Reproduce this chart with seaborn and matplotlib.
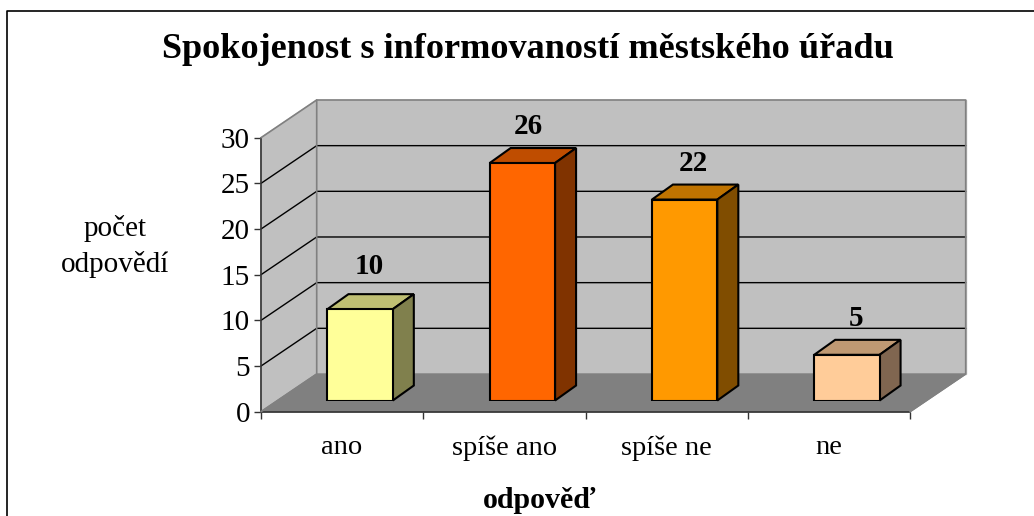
import matplotlib
matplotlib.use("Agg")
import matplotlib.pyplot as plt
import pandas as pd
import seaborn as sns

# data
answers = ["ano", "spíše ano", "spíše ne", "ne"]
counts = [10, 26, 22, 5]
front_colors = ["#FFFF99", "#FF6600", "#FF9900", "#FFCC99"]
top_colors = ["#BFBF73", "#BF4D00", "#BF7300", "#BF9973"]
side_colors = ["#80804D", "#803300", "#804D00", "#806650"]
y_ticks = [0, 5, 10, 15, 20, 25, 30]

# where the value labels sit against the top of each bar (pixels)
label_dx = [9, 6, 9, 9]
label_dy = [14, 8, 8, 8]

W, H = 1034, 516

sns.set_theme(style="white")
plt.rcParams["font.family"] = ["Liberation Serif", "DejaVu Serif"]


def box(left, top, right, bottom):
    # pixel box to figure fractions
    return [left / W, 1 - bottom / H, (right - left) / W, (bottom - top) / H]


fig = plt.figure(figsize=(W / 100, H / 100), dpi=100)

# outer frame, cut off by the right and bottom of the picture
fig.add_artist(plt.Line2D([7 / W, 7 / W, 1], [0, 1 - 11 / H, 1 - 11 / H], color="black", lw=1.2))

# front plane of the chart
ax = fig.add_axes(box(261, 137.7, 910, 411.7), zorder=1)
ax.patch.set_alpha(0)
ax.set_xlim(-0.5, 3.5)
ax.set_ylim(0, 30)

# depth of the walls, in data units
wall_dx = 55.7 / 162.25
wall_dy = 37.7 / 9.13
wall = "#C0C0C0"
edge = "#808080"

x0, x1 = -0.5, 3.5
ax.fill([x0 + wall_dx, x1 + wall_dx, x1 + wall_dx, x0 + wall_dx],
        [wall_dy, wall_dy, 30 + wall_dy, 30 + wall_dy], color=wall, clip_on=False, zorder=1)
ax.fill([x0, x0 + wall_dx, x0 + wall_dx, x0],
        [0, wall_dy, 30 + wall_dy, 30], color=wall, clip_on=False, zorder=1)
ax.fill([x0, x1, x1 + wall_dx, x0 + wall_dx],
        [0, 0, wall_dy, wall_dy], color="#808080", clip_on=False, zorder=1)

# gridlines on both walls
for t in y_ticks[1:-1]:
    ax.plot([x0, x0 + wall_dx, x1 + wall_dx], [t, t + wall_dy, t + wall_dy],
            color="black", lw=1.0, clip_on=False, zorder=2)

# wall outline
ax.plot([x0, x0 + wall_dx, x1 + wall_dx, x1 + wall_dx, x1],
        [30, 30 + wall_dy, 30 + wall_dy, wall_dy, 0], color=edge, lw=1.2, clip_on=False, zorder=3)
ax.plot([x0 + wall_dx, x0 + wall_dx, x0], [30 + wall_dy, wall_dy, 0], color=edge, lw=1.2, clip_on=False, zorder=3)

ax.set_yticks(y_ticks)
ax.set_xticks(range(len(answers)))
ax.set_xticklabels(answers)
ax.set_xticks([-0.5, 0.5, 1.5, 2.5, 3.5], minor=True)
ax.tick_params(axis="x", which="major", length=0, pad=17, labelsize=20.5, colors="black")
ax.tick_params(axis="x", which="minor", length=5, width=1, color="#333333", bottom=True)
ax.tick_params(axis="y", length=5, width=1, color="#333333", left=True, pad=3, labelsize=21, labelcolor="black")
for s in ["top", "right"]:
    ax.spines[s].set_visible(False)
for s in ["left", "bottom"]:
    ax.spines[s].set_color("#333333")
    ax.spines[s].set_linewidth(1.2)

# bars sit a little behind the front plane, so they get their own shifted axes
bar_ax = fig.add_axes(box(279, 126.5, 928, 400.5), zorder=2)
bar_ax.patch.set_alpha(0)
df = pd.DataFrame({"answer": answers, "count": counts})
sns.barplot(data=df, x="answer", y="count", hue="answer", palette=front_colors, order=answers, saturation=1,
            width=0.403, edgecolor="black", linewidth=1.5, legend=False, ax=bar_ax, zorder=3)
bar_ax.set_xlim(-0.5, 3.5)
bar_ax.set_ylim(0, 30)
bar_ax.axis("off")

bar_dx = 21 / 162.25
bar_dy = 15 / 9.13
for i, v in enumerate(counts):
    left = i - 0.2015
    right = i + 0.2015
    bar_ax.fill([left, right, right + bar_dx, left + bar_dx], [v, v, v + bar_dy, v + bar_dy],
                facecolor=top_colors[i], edgecolor="black", lw=1.5, clip_on=False, zorder=2)
    bar_ax.fill([right, right + bar_dx, right + bar_dx, right], [0, bar_dy, v + bar_dy, v],
                facecolor=side_colors[i], edgecolor="black", lw=1.5, clip_on=False, zorder=2)
    bar_ax.annotate(str(v), (i, v + bar_dy), xytext=(label_dx[i], label_dy[i]), textcoords="offset pixels",
                    ha="center", va="bottom", fontsize=21, fontweight="bold", color="black",
                    annotation_clip=False, zorder=5)

# titles
fig.text(527.5 / W, 1 - 49 / H, "Spokojenost s informovaností městského úřadu", ha="center", va="center",
         fontsize=26.1, fontweight="bold", color="black")
fig.text(115 / W, 1 - 246.5 / H, "počet\nodpovědí", ha="center", va="center", fontsize=21, linespacing=1.4, color="black")
fig.text(540 / W, 1 - 501 / H, "odpověď", ha="center", va="center", fontsize=21.5, fontweight="bold", color="black")

fig.savefig("out.png", dpi=100, facecolor="white")
